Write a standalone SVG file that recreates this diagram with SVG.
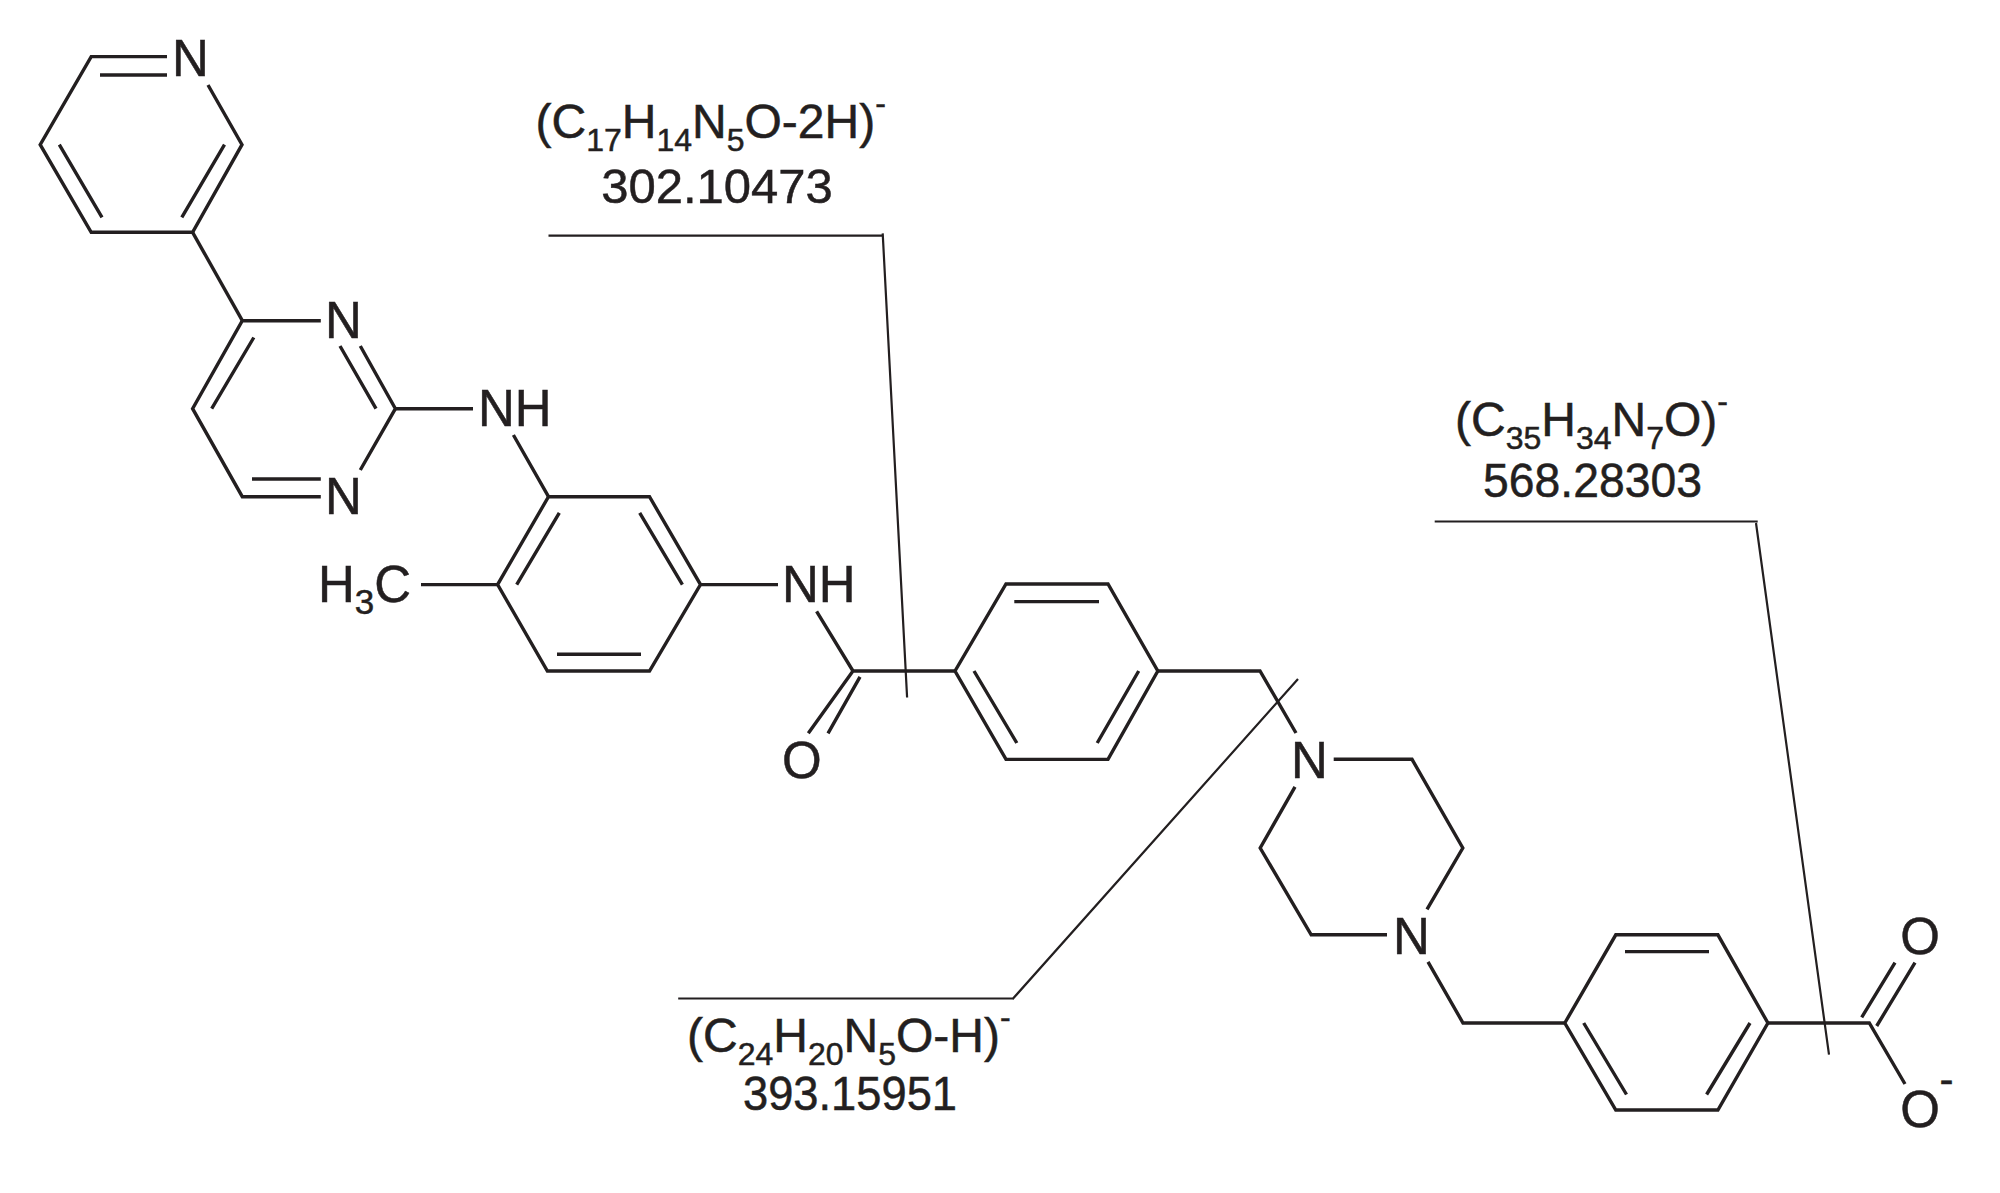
<svg xmlns="http://www.w3.org/2000/svg" width="2000" height="1193" viewBox="0 0 2000 1193">
<style>
.b{fill:none;stroke:#231f20;stroke-width:3.4;stroke-linejoin:miter;stroke-linecap:butt}
.a{fill:none;stroke:#231f20;stroke-width:2.2}
text{font-family:"Liberation Sans",Arial,sans-serif;fill:#231f20;stroke:#231f20;stroke-width:.5}
.t{font-size:51px}
.l{font-size:48px}
.n{font-size:49px}
.s{font-size:32px}
</style>
<rect width="2000" height="1193" fill="#fff"/>
<g id="connectors">
<g id="bonds">
<path class="b" d="M167 56.6H91.2L40.2 144.7L91.2 232.3H192.6L242 144.7L208 85M100 75H167M59.3 144.7L102 217.4M224.5 144.7L181.8 217.4"/>
<path class="b" d="M192.6 232.3L242.3 320.7"/>
<path class="b" d="M320.8 320.7H242.3L192.6 408.7L242.3 496.7H320.8M253.8 337.5L211.7 408.7M252 479H320.8M360.3 346L395.4 408.7L360.3 470M340 346L376 408.7"/>
<path class="b" d="M395.4 408.7H473M513.4 435L548.5 496.7"/>
<path class="b" d="M548.5 496.7H649.5L700.5 584.6L649.5 671H547.4L497.6 584.6ZM559.3 512.8L516.7 584.6M639.7 512.8L682.4 584.6M557 654.2H641"/>
<path class="b" d="M421 584.6H497.6M700.5 584.6H778M816.6 611.4L853 671L808.3 733.3M860 676.8L828 733.3M853 671H955"/>
<path class="b" d="M955 671L1006 584H1108L1157.8 671L1108 759.4H1006ZM1014.3 601.6H1099M974 671L1016.8 743M1138.7 671L1097.2 743"/>
<path class="b" d="M1157.8 671H1260L1296 733"/>
<path class="b" d="M1333.7 759.3H1412L1462.8 848L1427 909.3M1387 934.8H1311.2L1260.2 848L1295 786.8"/>
<path class="b" d="M1428 961.8L1463 1023H1564.8"/>
<path class="b" d="M1564.8 1023L1615.8 934.8H1717.9L1767.9 1023L1717.9 1110H1615.8ZM1625 951.6H1709M1583.7 1023L1626.5 1094.5M1750 1023L1706.6 1094.5"/>
<path class="b" d="M1767.9 1023H1869.3L1905 1084M1861.7 1017.3L1895 962.7M1876.7 1026L1915 962.7"/>
</g>
<g id="cleavage-lines">
<path class="a" d="M548.5 235.7H883.3M882.7 233.4L907.1 697.5"/>
<path class="a" d="M678.2 998.5H1012.4M1012.4 999.3L1298 679"/>
<path class="a" d="M1434.7 521.5H1757.7M1756 523L1829 1054.7"/>
</g>
</g>
<g id="atom-n1"><text class="t" x="172" y="76">N</text></g>
<g id="atom-n2"><text class="t" x="325" y="337.5">N</text></g>
<g id="atom-n3"><text class="t" x="325" y="513.6">N</text></g>
<g id="atom-nh1"><text class="t" x="478" y="425.6">NH</text></g>
<g id="atom-ch3"><text class="t" x="318" y="601.6">H<tspan font-size="35" dy="12">3</tspan><tspan dy="-12">C</tspan></text></g>
<g id="atom-nh2"><text class="t" x="782" y="601.6">NH</text></g>
<g id="atom-o1"><text class="t" x="782" y="778">O</text></g>
<g id="atom-n4"><text class="t" x="1291" y="778">N</text></g>
<g id="atom-n5"><text class="t" x="1393" y="954">N</text></g>
<g id="atom-o2"><text class="t" x="1900.3" y="954">O</text></g>
<g id="atom-o3"><text class="t" x="1900.3" y="1127">O</text><text x="1939.5" y="1094" font-size="42">-</text></g>
<g id="label-302">
<text class="l" x="535.5" y="137.8">(C<tspan class="s" dy="13">17</tspan><tspan dy="-13">H</tspan><tspan class="s" dy="13">14</tspan><tspan dy="-13">N</tspan><tspan class="s" dy="13">5</tspan><tspan dy="-13">O-2H)</tspan><tspan class="s" dy="-24">-</tspan></text>
<text class="n" x="717" y="203.3" text-anchor="middle">302.10473</text>
</g>
<g id="label-393">
<text class="l" x="687" y="1052">(C<tspan class="s" dy="13">24</tspan><tspan dy="-13">H</tspan><tspan class="s" dy="13">20</tspan><tspan dy="-13">N</tspan><tspan class="s" dy="13">5</tspan><tspan dy="-13">O-H)</tspan><tspan class="s" dy="-24">-</tspan></text>
<text class="l" x="743" y="1110" textLength="214" lengthAdjust="spacingAndGlyphs">393.15951</text>
</g>
<g id="label-568">
<text class="l" x="1455" y="436">(C<tspan class="s" dy="13">35</tspan><tspan dy="-13">H</tspan><tspan class="s" dy="13">34</tspan><tspan dy="-13">N</tspan><tspan class="s" dy="13">7</tspan><tspan dy="-13">O)</tspan><tspan class="s" dy="-24">-</tspan></text>
<text class="l" x="1483" y="497" textLength="219" lengthAdjust="spacingAndGlyphs">568.28303</text>
</g>
</svg>
